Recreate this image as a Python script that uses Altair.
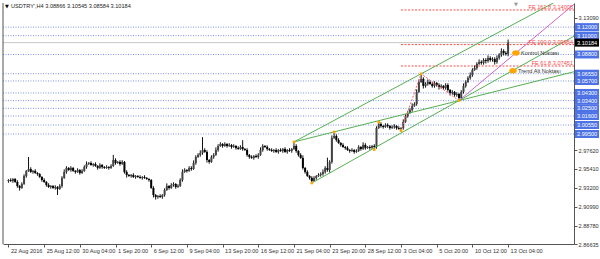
import json
import altair as alt
import pandas as pd

# ---------------- data ----------------
header = "USDTRY',H4  3.08866 3.10545 3.08584 3.10184"
first_open = 2.9400
closes = [
    2.9412, 2.9400, 2.9424, 2.9389, 2.9342, 2.9319, 2.9365, 2.9459, 2.9518, 2.9541, 2.9506, 2.9518, 2.9494, 2.9482, 2.9447,
    2.9412, 2.9389, 2.9354, 2.9330, 2.9342, 2.9319, 2.9330, 2.9307, 2.9342, 2.9436, 2.9506, 2.9553, 2.9529, 2.9553, 2.9518,
    2.9506, 2.9529, 2.9494, 2.9518, 2.9564, 2.9599, 2.9611, 2.9588, 2.9599, 2.9576, 2.9553, 2.9588, 2.9564, 2.9553, 2.9564,
    2.9553, 2.9576, 2.9646, 2.9611, 2.9623, 2.9599, 2.9623, 2.9506, 2.9471, 2.9459, 2.9471, 2.9447, 2.9459, 2.9447, 2.9436,
    2.9447, 2.9436, 2.9424, 2.9412, 2.9319, 2.9237, 2.9213, 2.9225, 2.9213, 2.9237, 2.9295, 2.9342, 2.9319, 2.9354, 2.9365,
    2.9330, 2.9342, 2.9412, 2.9506, 2.9529, 2.9518, 2.9553, 2.9541, 2.9611, 2.9681, 2.9705, 2.9728, 2.9763, 2.9740, 2.9646,
    2.9623, 2.9681, 2.9705, 2.9763, 2.9810, 2.9833, 2.9810, 2.9833, 2.9810, 2.9822, 2.9798, 2.9810, 2.9787, 2.9775, 2.9798,
    2.9775, 2.9763, 2.9705, 2.9681, 2.9670, 2.9693, 2.9681, 2.9705, 2.9763, 2.9810, 2.9798, 2.9775, 2.9763, 2.9751, 2.9763,
    2.9740, 2.9763, 2.9751, 2.9775, 2.9740, 2.9763, 2.9751, 2.9775, 2.9810, 2.9751, 2.9705, 2.9670, 2.9553, 2.9506, 2.9459,
    2.9436, 2.9400, 2.9436, 2.9459, 2.9471, 2.9482, 2.9506, 2.9553, 2.9529, 2.9623, 2.9903, 2.9927, 2.9880, 2.9845, 2.9822,
    2.9798, 2.9787, 2.9763, 2.9751, 2.9763, 2.9740, 2.9751, 2.9798, 2.9775, 2.9822, 2.9787, 2.9798, 2.9787, 2.9810, 2.9798,
    3.0020, 3.0067, 3.0044, 3.0032, 3.0055, 3.0044, 3.0020, 3.0032, 3.0044, 3.0020, 3.0009, 3.0020, 3.0091, 3.0161, 3.0196,
    3.0231, 3.0278, 3.0301, 3.0442, 3.0558, 3.0594, 3.0512, 3.0535, 3.0558, 3.0535, 3.0512, 3.0547, 3.0523, 3.0500, 3.0512,
    3.0488, 3.0523, 3.0465, 3.0430, 3.0442, 3.0406, 3.0418, 3.0371, 3.0442, 3.0512, 3.0558, 3.0605, 3.0640, 3.0699, 3.0722,
    3.0769, 3.0792, 3.0781, 3.0816, 3.0804, 3.0839, 3.0816, 3.0827, 3.0792, 3.0839, 3.0874, 3.0921, 3.0898, 3.08866, 3.10184,
]
# wick lengths above / below the body, in units of 0.001
up_wick = [
    1, 2, 1, 1, 2, 1, 2, 2, 1, 14, 2, 1, 2, 1, 1,
    1, 2, 1, 2, 1, 1, 2, 1, 2, 2, 3, 2, 1, 2, 1,
    1, 2, 1, 2, 2, 3, 1, 2, 1, 2, 1, 2, 1, 1, 2,
    1, 2, 6, 2, 1, 2, 2, 1, 2, 1, 1, 2, 1, 1, 2,
    1, 2, 1, 1, 1, 2, 1, 1, 2, 1, 2, 3, 1, 2, 2,
    1, 2, 2, 3, 2, 1, 2, 2, 3, 2, 2, 3, 15, 2, 2,
    1, 2, 2, 3, 2, 2, 1, 2, 1, 2, 1, 2, 1, 2, 2,
    8, 1, 2, 1, 2, 1, 2, 2, 3, 2, 1, 2, 1, 2, 1,
    2, 1, 2, 1, 2, 1, 2, 1, 5, 2, 1, 2, 3, 1, 2,
    1, 2, 2, 1, 2, 2, 3, 2, 12, 2, 3, 5, 2, 2, 1,
    2, 1, 2, 1, 2, 1, 2, 2, 1, 3, 2, 1, 2, 1, 2,
    2, 2, 2, 1, 2, 2, 1, 2, 2, 1, 2, 1, 3, 2, 2,
    2, 3, 2, 3, 3, 6, 2, 2, 3, 2, 2, 2, 1, 2, 2,
    1, 2, 2, 1, 2, 1, 2, 1, 2, 3, 2, 2, 3, 2, 3,
    2, 3, 2, 2, 2, 3, 2, 2, 2, 3, 2, 3, 2, 2, 3.61,
]
down_wick = [
    2, 1, 2, 1, 2, 3, 1, 1, 2, 1, 1, 2, 1, 2, 1,
    2, 1, 2, 1, 2, 1, 2, 7, 1, 2, 1, 2, 1, 2, 1,
    2, 1, 2, 1, 1, 2, 1, 1, 2, 1, 2, 1, 2, 1, 1,
    2, 1, 1, 2, 1, 2, 1, 2, 3, 1, 2, 1, 2, 1, 1,
    2, 1, 1, 2, 1, 3, 3, 2, 1, 2, 2, 1, 2, 1, 2,
    2, 1, 1, 2, 1, 2, 1, 2, 1, 2, 1, 2, 2, 1, 3,
    2, 1, 2, 1, 2, 1, 2, 1, 2, 1, 2, 1, 2, 1, 1,
    2, 1, 2, 2, 1, 2, 1, 2, 1, 2, 1, 2, 1, 1, 2,
    1, 2, 1, 2, 1, 2, 1, 2, 1, 2, 2, 1, 2, 2, 1,
    2, 2, 1, 2, 1, 2, 2, 2, 2, 3, 2, 1, 2, 1, 2,
    1, 2, 1, 2, 1, 2, 1, 1, 2, 1, 2, 1, 2, 1, 3,
    2, 1, 2, 2, 1, 2, 2, 1, 2, 2, 1, 2, 2, 1, 2,
    1, 2, 1, 2, 1, 1, 3, 2, 2, 1, 2, 2, 2, 3, 2,
    2, 2, 2, 3, 2, 2, 2, 3, 2, 2, 2, 1, 2, 2, 1,
    2, 1, 2, 2, 3, 2, 2, 2, 3, 2, 2, 2, 3, 2, 2.82,
]
tick_every = 16
date_labels = ["22 Aug 2016", "25 Aug 12:00", "30 Aug 04:00", "1 Sep 20:00", "6 Sep 12:00",
               "9 Sep 04:00", "13 Sep 20:00", "16 Sep 12:00", "21 Sep 04:00", "23 Sep 20:00",
               "28 Sep 12:00", "3 Oct 04:00", "5 Oct 20:00", "10 Oct 12:00", "13 Oct 04:00"]
axis_prices = [3.13090, 2.97620, 2.95410, 2.93200, 2.90990, 2.88780, 2.86635]
level_prices = [3.12000, 3.11000, 3.08800, 3.06550, 3.05700, 3.04300, 3.03400, 3.02500, 3.01600, 3.00550, 2.99500]
bid_price = 3.10184
fe_prices = [3.14005, 3.09954, 3.07451]
fe_names = ["FE 161.8", "FE 100.0", "FE 61.8"]
fe_start = 176
swing_bars = [128, 136, 146, 164, 166, 176, 185, 202]
swing_prices = [2.9857, 2.9377, 2.9974, 2.9768, 3.0087, 2.9989, 3.0654, 3.0341]
green_rays = [(128, 2.9857, 185, 3.0654), (128, 2.9857, 202, 3.0341), (136, 2.9377, 202, 3.0341)]
purple_ray = (202, 3.0341, 227.5, 3.0898)
zigzag_bars = [176, 185, 202]
zigzag_prices = [2.9989, 3.0654, 3.0341]
note_bars = [227.5, 226.2]
note_prices = [3.0898, 3.0690]
note_texts = ["Kontrol Noktası", "Trend Alt Noktası"]

# ---------------- layout ----------------
W, H = 571, 241
X_MIN, X_END = -0.2, 251.3
Y_MIN, Y_MAX = 2.86635, 3.1482
FONT = "Liberation Sans"
FS = 5.6

xs = alt.Scale(domain=[X_MIN, X_END], nice=False, zero=False)
ys = alt.Scale(domain=[Y_MIN, Y_MAX], nice=False, zero=False)

n = len(closes)
opens = [first_open] + closes[:-1]
highs = [max(o, c) + u * 0.001 for o, c, u in zip(opens, closes, up_wick)]
lows = [min(o, c) - d * 0.001 for o, c, d in zip(opens, closes, down_wick)]
candles = pd.DataFrame({
    "i": list(range(n)), "o": opens, "h": highs, "l": lows, "c": closes,
    "dir": ["up" if c >= o else "down" for o, c in zip(opens, closes)],
})

label_js = json.dumps(date_labels)
x_axis = alt.Axis(values=list(range(0, n, tick_every)), labelExpr=f"{label_js}[round(datum.value/{tick_every})]",
                  title=None, grid=False, tickSize=3, labelAlign="left", labelOffset=2, labelPadding=1,
                  labelFontSize=FS, labelFont=FONT, labelColor="#333", domainColor="#555", tickColor="#555",
                  labelOverlap=False, labelBound=False, labelFlush=False)
y_axis = alt.Axis(orient="right", values=axis_prices, format=".5f", title=None, grid=False, tickSize=3,
                  labelPadding=1, labelFontSize=FS, labelFont=FONT, labelColor="#333",
                  domainColor="#555", tickColor="#555", labelOverlap=False, labelBound=False, labelFlush=False)


def X(field):
    return alt.X(field, scale=xs, axis=x_axis)


def Y(field):
    return alt.Y(field, scale=ys, axis=y_axis)


wicks = alt.Chart(candles).mark_rule(color="#111", strokeWidth=1).encode(
    x=X("i:Q"), y=Y("l:Q"), y2="h:Q")
bodies = alt.Chart(candles).mark_bar(size=2, minBandSize=1).encode(
    x=X("i:Q"), y=Y("o:Q"), y2="c:Q",
    color=alt.Color("dir:N", scale=alt.Scale(domain=["up", "down"], range=["#444444", "#000000"]), legend=None),
)

levels_df = pd.DataFrame({"p": level_prices, "t": [f"{v:.5f}" for v in level_prices]})
levels = alt.Chart(levels_df).mark_rule(color="#7d95ee", strokeDash=[1, 1.5], strokeWidth=1).encode(y=Y("p:Q"))
bid_df = pd.DataFrame({"p": [bid_price], "t": [f"{bid_price:.5f}"]})
bid_line = alt.Chart(bid_df).mark_rule(color="#c8c8c8", strokeWidth=1).encode(y=Y("p:Q"))

fe_df = pd.DataFrame({"p": fe_prices, "s": [fe_start] * 3,
                      "t": [f"{nm} {v:.5f}" for nm, v in zip(fe_names, fe_prices)]})
fe_lines = alt.Chart(fe_df).mark_rule(color="#ff4a4a", strokeDash=[2, 1.5], strokeWidth=1).encode(
    x=X("s:Q"), x2=alt.value(W), y=Y("p:Q"))
fe_text = alt.Chart(fe_df).mark_text(align="right", baseline="bottom", fontSize=FS, font=FONT,
                                     color="#ff4a4a").encode(x=alt.value(W - 1), y=Y("p:Q"), text="t:N")


def ray(r, rid):
    i1, p1, i2, p2 = r
    pe = p1 + (p2 - p1) * (X_END + 5 - i1) / (i2 - i1)
    return [{"id": rid, "i": i1, "p": p1}, {"id": rid, "i": X_END + 5, "p": pe}]


green_rows = []
for k, r in enumerate(green_rays):
    green_rows += ray(r, k)
green = alt.Chart(pd.DataFrame(green_rows)).mark_line(color="#55b04f", strokeWidth=1, clip=True).encode(
    x=X("i:Q"), y=Y("p:Q"), detail="id:N")
purple = alt.Chart(pd.DataFrame(ray(purple_ray, 0))).mark_line(color="#cc66cc", strokeWidth=1, clip=True).encode(
    x=X("i:Q"), y=Y("p:Q"))
zig = alt.Chart(pd.DataFrame({"i": zigzag_bars, "p": zigzag_prices})).mark_line(
    color="#ff6060", strokeDash=[2, 1.5], strokeWidth=1).encode(x=X("i:Q"), y=Y("p:Q"))

swings = alt.Chart(pd.DataFrame({"i": swing_bars, "p": swing_prices})).mark_square(
    size=7, color="#ffa500", opacity=1).encode(x=X("i:Q"), y=Y("p:Q"))

notes_df = pd.DataFrame({"i": note_bars, "p": note_prices, "t": note_texts})
note_dots = alt.Chart(notes_df).mark_point(
    shape="M-1,0A1,0.72 0 1,0 1,0A1,0.72 0 1,0 -1,0Z", filled=True, size=60, color="#ffa500", opacity=1).encode(
    x=X("i:Q"), y=Y("p:Q"))
note_text = alt.Chart(notes_df).mark_text(align="left", baseline="middle", dx=5, fontSize=FS, font=FONT,
                                          color="#333").encode(x=X("i:Q"), y=Y("p:Q"), text="t:N")

boxes = alt.Chart(levels_df).mark_tick(orient="horizontal", size=24, thickness=8, color="#4d72e6", opacity=1).encode(
    x=alt.value(W + 13), y=Y("p:Q"))
box_text = alt.Chart(levels_df).mark_text(align="left", baseline="middle", fontSize=FS, font=FONT,
                                          color="white").encode(x=alt.value(W + 3), y=Y("p:Q"), text="t:N")
bid_box = alt.Chart(bid_df).mark_tick(orient="horizontal", size=24, thickness=8, color="#000", opacity=1).encode(
    x=alt.value(W + 13), y=Y("p:Q"))
bid_text = alt.Chart(bid_df).mark_text(align="left", baseline="middle", fontSize=FS, font=FONT,
                                       color="white").encode(x=alt.value(W + 3), y=Y("p:Q"), text="t:N")

head_df = pd.DataFrame({"t": [header], "tri": ["▼"]})
head_text = alt.Chart(head_df).mark_text(align="left", baseline="middle", fontSize=FS, font=FONT,
                                         color="#222").encode(x=alt.value(8), y=alt.value(3), text="t:N")
head_tri = alt.Chart(head_df).mark_text(align="left", baseline="middle", fontSize=5, font="DejaVu Sans",
                                        color="#000").encode(x=alt.value(2), y=alt.value(3), text="tri:N")
shift_tri = alt.Chart(head_df).mark_text(align="center", baseline="middle", fontSize=5, font="DejaVu Sans",
                                         color="#999").encode(x=alt.value(513), y=alt.value(1), text="tri:N")
left_border = alt.Chart(head_df).mark_rule(color="#555", strokeWidth=1).encode(
    x=alt.value(0), y=alt.value(0), y2=alt.value(H))

chart = alt.layer(
    levels, bid_line, fe_lines, wicks, bodies, green, purple, zig, swings, note_dots, note_text,
    fe_text, boxes, box_text, bid_box, bid_text, head_tri, head_text, shift_tri, left_border,
).properties(
    width=W, height=H,
    autosize=alt.AutoSizeParams(type="none"),
    padding={"left": 3, "top": 3, "right": 26, "bottom": 15},
    background="white",
).configure_view(stroke=None)

chart.save("out.html", embed_options={"renderer": "svg", "actions": False})
